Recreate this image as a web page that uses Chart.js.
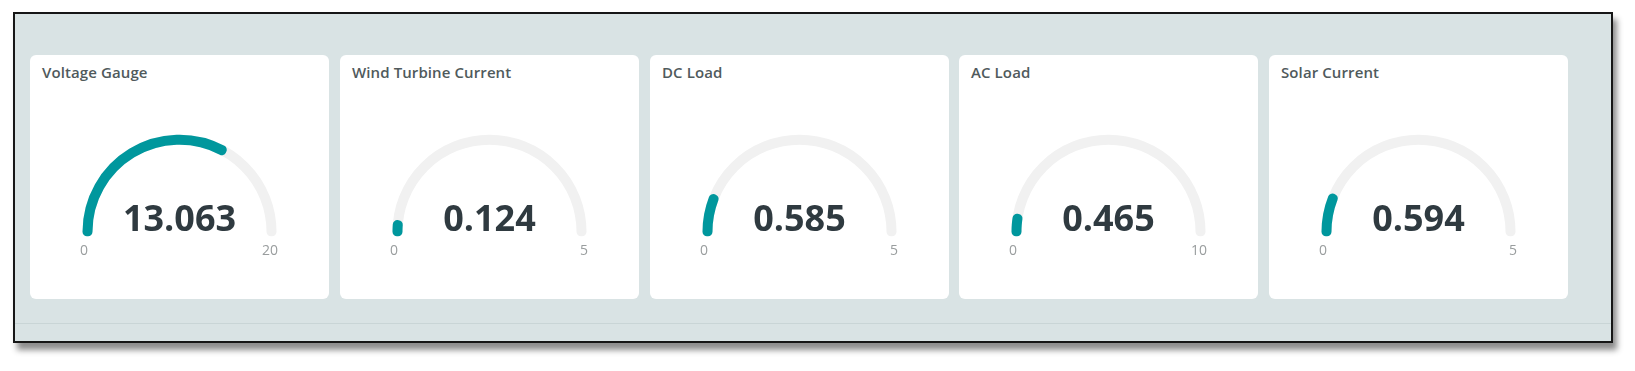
<!DOCTYPE html>
<html><head><meta charset="utf-8">
<script src="https://cdn.jsdelivr.net/npm/chart.js@4.4.0/dist/chart.umd.min.js"></script>
<style>
html,body{margin:0;padding:0;background:#fff;width:1635px;height:371px;overflow:hidden;font-family:"Open Sans",sans-serif;}
#frame{position:absolute;left:13px;top:12px;width:1596px;height:327px;border:2px solid #161616;background:#d9e3e4;box-shadow:4px 7px 6px rgba(0,0,0,0.45);}
#sep{position:absolute;left:0;top:309px;width:1596px;height:1px;background:#c9d5d6;}
.card{position:absolute;top:55px;width:299px;height:244px;background:#fff;border-radius:6px;}
.title{position:absolute;left:12px;top:10px;font-size:15px;line-height:15px;font-weight:600;color:#505a5c;white-space:nowrap;letter-spacing:0.1px;}
.cv{position:absolute;left:34px;top:65px;}
.val{position:absolute;left:0;width:299px;top:145px;text-align:center;font-size:36px;line-height:36px;font-weight:700;color:#2f3a40;}
.mn,.mx{position:absolute;top:188px;font-size:14px;line-height:14px;color:#999d9e;}
.mn{left:50px;}
.mx{right:51px;text-align:right;}
</style>
</head><body>
<div id="frame"><div id="sep"></div></div>
<div id="cards"></div>
<script>
const titles = ["Voltage Gauge", "Wind Turbine Current", "DC Load", "AC Load", "Solar Current"];
const values = [13.063, 0.124, 0.585, 0.465, 0.594];
const minTicks = [0, 0, 0, 0, 0];
const maxTicks = [20, 5, 5, 10, 5];
const valueLabels = ["13.063", "0.124", "0.585", "0.465", "0.594"];

const TEAL = "#00979d";
const TRACK = "#f1f1f1";
const CLEAR = "rgba(0,0,0,0)";

function gauge(canvas, data, colors, widths) {
  return new Chart(canvas, {
    type: 'doughnut',
    data: {
      labels: data.map((_, i) => 'p' + i),
      datasets: [{
        data: data,
        backgroundColor: colors,
        borderColor: colors,
        borderWidth: widths,
        borderJoinStyle: 'round',
        borderAlign: 'center'
      }]
    },
    options: {
      responsive: false,
      animation: false,
      events: [],
      rotation: -90,
      circumference: 180,
      radius: 92.5,
      cutout: '98.92%',
      layout: { padding: 0 },
      plugins: { legend: { display: false }, tooltip: { enabled: false } }
    }
  });
}

const host = document.getElementById('cards');
titles.forEach((t, i) => {
  const card = document.createElement('div');
  card.className = 'card';
  card.style.left = Math.round(30 + i * 309.75) + 'px';
  card.innerHTML =
    '<canvas class="cv" width="231" height="131"></canvas>' +
    '<canvas class="cv" width="231" height="131"></canvas>' +
    '<div class="title"></div><div class="val"></div><div class="mn"></div><div class="mx"></div>';
  host.appendChild(card);
  card.querySelector('.title').textContent = t;
  card.querySelector('.val').textContent = valueLabels[i];
  card.querySelector('.mn').textContent = String(minTicks[i]);
  card.querySelector('.mx').textContent = String(maxTicks[i]);
  const cvs = card.querySelectorAll('canvas');
  const span = maxTicks[i] - minTicks[i];
  gauge(cvs[0], [span], [TRACK], [9]);
  gauge(cvs[1], [values[i] - minTicks[i], maxTicks[i] - values[i]], [TEAL, CLEAR], [9, 0]);
});
</script>
</body></html>
